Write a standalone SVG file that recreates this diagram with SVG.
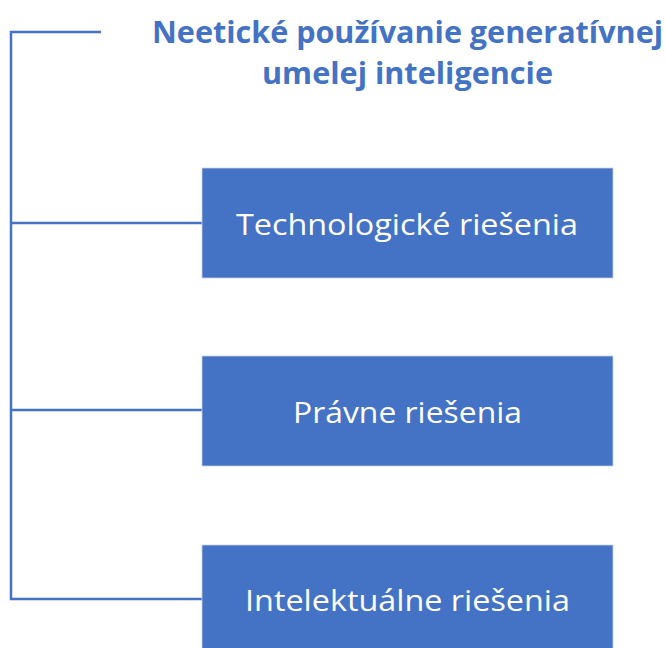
<svg xmlns="http://www.w3.org/2000/svg" width="665" height="648" viewBox="0 0 665 648">
<style>
.conn{stroke:#4472C4;stroke-width:2.5;fill:none}
.box{fill:#4472C4;stroke:#c9d3e8;stroke-width:0.8}
.lbl{font-family:"Open Sans","Noto Sans","Liberation Sans",sans-serif;font-size:30px;fill:#ffffff;text-anchor:middle}
.title{font-family:"Open Sans","Noto Sans","Liberation Sans",sans-serif;font-size:30px;font-weight:bold;fill:#4472C4;text-anchor:middle}
</style>
<rect width="665" height="648" fill="#ffffff"/>
<g id="connectors">
<polyline class="conn" points="101,32 11,32 11,599 202,599"/>
<line class="conn" x1="11" y1="223" x2="202" y2="223"/>
<line class="conn" x1="11" y1="410" x2="202" y2="410"/>
</g>
<g id="title">
<text class="title" x="407.5" y="43" textLength="511" lengthAdjust="spacingAndGlyphs">Neetické používanie generatívnej</text>
<text class="title" x="407.5" y="84" textLength="291" lengthAdjust="spacingAndGlyphs">umelej inteligencie</text>
</g>
<g id="node-tech">
<rect class="box" x="202" y="168" width="411" height="110"/>
<text class="lbl" x="407" y="235" textLength="342" lengthAdjust="spacingAndGlyphs">Technologické riešenia</text>
</g>
<g id="node-pravne">
<rect class="box" x="202" y="356" width="411" height="110"/>
<text class="lbl" x="407.5" y="423" textLength="229" lengthAdjust="spacingAndGlyphs">Právne riešenia</text>
</g>
<g id="node-intel">
<rect class="box" x="202" y="545" width="411" height="110"/>
<text class="lbl" x="407.5" y="611" textLength="325" lengthAdjust="spacingAndGlyphs">Intelektuálne riešenia</text>
</g>
</svg>
